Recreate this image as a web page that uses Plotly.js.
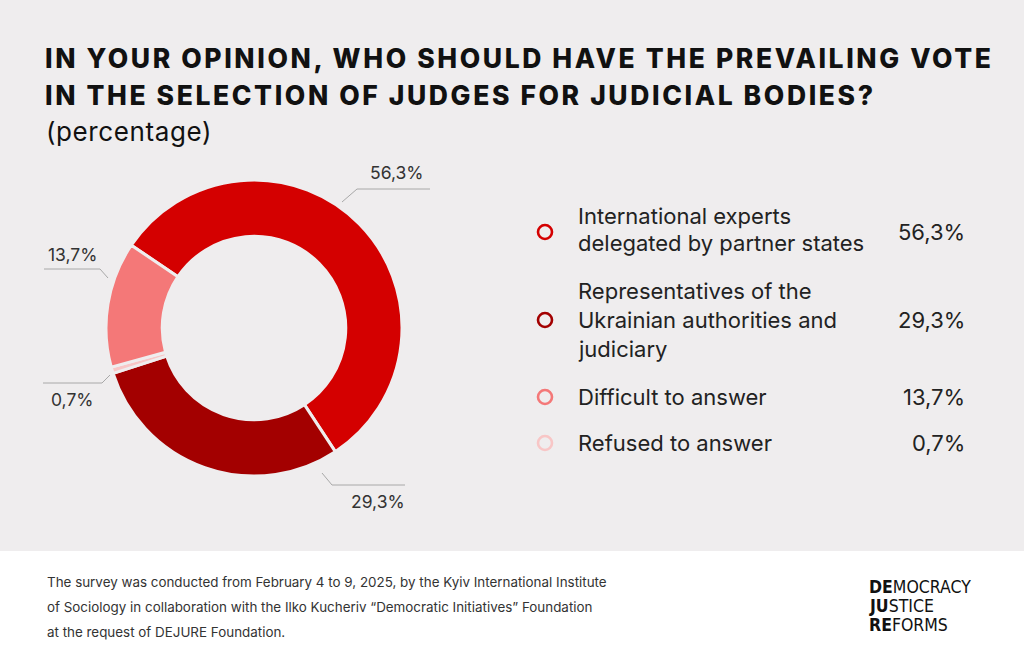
<!DOCTYPE html>
<html>
<head>
<meta charset="utf-8">
<script src="https://cdn.plot.ly/plotly-3.0.1.min.js"></script>
<style>
  body { margin: 0; background: #efedee; }
  #chart { width: 1024px; height: 659px; }
  /* the title is set with wide tracking */
  .annotation[data-index="0"] text,
  .annotation[data-index="1"] text { letter-spacing: 2.6px; }
  .annotation[data-index="2"] text { letter-spacing: 0.6px; }
</style>
</head>
<body>
<div id="chart"></div>
<script>
let chart = document.getElementById("chart");

// survey answers, in the order they run clockwise round the donut
const answers = [
    "International experts<br>delegated by partner states",
    "Representatives of the<br>Ukrainian authorities and<br>judiciary",
    "Refused to answer",
    "Difficult to answer",
];
const shares = [56.3, 29.3, 0.7, 13.7];
const sliceColors = ["#d40000", "#a30000", "#f8c6c6", "#f47878"];

// legend order differs from the donut order
const legendOrder = [0, 1, 3, 2];

const W = 1024;
const H = 659;
const bg = "#efedee";
const font = "Inter, 'Open Sans', sans-serif";

// pixel -> paper helpers
function px(x) { return x / W; }
function py(y) { return 1 - y / H; }

function fmt(v) {
    return v.toFixed(1).replace(".", ",") + "%";
}

let annotations = [];
let shapes = [];

function addText(text, x, y, size, opts) {
    annotations.push(Object.assign({
        text: text,
        x: px(x),
        y: py(y),
        xref: "paper",
        yref: "paper",
        xanchor: "left",
        align: "left",
        yanchor: "middle",
        showarrow: false,
        font: { family: font, size: size, color: "#222" },
    }, opts || {}));
}

// title
const titleFont = { family: font, size: 26.5, color: "#111", weight: 800 };
addText("IN YOUR OPINION, WHO SHOULD HAVE THE PREVAILING VOTE", 43, 58, 26.5, { font: titleFont });
addText("IN THE SELECTION OF JUDGES FOR JUDICIAL BODIES?", 43, 95, 26.5, { font: titleFont });
addText("(percentage)", 44, 131, 26, { font: { family: font, size: 26, color: "#111" } });

// labels round the donut with leader lines
const calloutText = [
    { x: 396, y: 173 },
    { x: 378, y: 501 },
    { x: 72, y: 399 },
    { x: 72, y: 254 },
];
const calloutLines = [
    [[342, 202], [357, 189], [430, 189]],
    [[322, 473], [332, 485], [405, 485]],
    [[110, 375], [102, 383], [43, 383]],
    [[108, 278], [100, 269], [44, 269]],
];
shares.forEach(function (v, i) {
    addText(fmt(v), calloutText[i].x, calloutText[i].y, 17.5, {
        xanchor: "center",
        align: "center",
        font: { family: font, size: 17.5, color: "#333" },
    });
    let pts = calloutLines[i];
    let d = "M" + pts.map(p => px(p[0]) + "," + py(p[1])).join(" L");
    shapes.push({
        type: "path", xref: "paper", yref: "paper", path: d,
        line: { color: "#a8a8a8", width: 1 },
    });
});

// legend, built by hand
const rowLines = [[216, 243], [291, 320, 349], [397], [443]];
const rowMarks = [232, 320, 397, 443];
legendOrder.forEach(function (idx, row) {
    let lines = answers[idx].split("<br>");
    lines.forEach(function (ln, k) {
        addText(ln, 576, rowLines[row][k], 22);
    });
    addText(fmt(shares[idx]), 967, rowMarks[row], 22, { xanchor: "right", align: "right" });
    let cy = rowMarks[row];
    shapes.push({
        type: "circle", xref: "paper", yref: "paper",
        x0: px(538), x1: px(552), y0: py(cy - 7), y1: py(cy + 7),
        line: { color: sliceColors[idx], width: 2.6 },
        fillcolor: "rgba(0,0,0,0)",
    });
});

// footer band
shapes.push({
    type: "rect", xref: "paper", yref: "paper", layer: "below",
    x0: 0, x1: 1, y0: 0, y1: py(551),
    fillcolor: "#ffffff", line: { width: 0 },
});
const footLines = [
    "The survey was conducted from February 4 to 9, 2025, by the Kyiv International Institute",
    "of Sociology in collaboration with the Ilko Kucheriv \u201cDemocratic Initiatives\u201d Foundation",
    "at the request of DEJURE Foundation.",
];
footLines.forEach(function (t, k) {
    addText(t, 45, 582 + k * 25, 13.4, { font: { family: font, size: 13.4, color: "#333" } });
});

// logo
const logo = [["DE", "MOCRACY"], ["JU", "STICE"], ["RE", "FORMS"]];
logo.forEach(function (p, k) {
    addText("<b>" + p[0] + "</b>" + p[1], 867, 587 + k * 19, 17.5, {
        font: { family: "'Liberation Sans Narrow', 'DejaVu Sans Condensed', sans-serif", size: 17.5, color: "#111" },
    });
});

const cx = 254, cy = 328, r = 148;

Plotly.newPlot(chart, [
    {
        type: "pie",
        labels: answers.map(a => a.replace(/<br>/g, " ")),
        values: shares,
        sort: false,
        direction: "clockwise",
        rotation: -56,
        hole: 0.62,
        textinfo: "none",
        hoverinfo: "label+value",
        marker: { colors: sliceColors, line: { color: bg, width: 3 } },
        domain: { x: [px(cx - r), px(cx + r)], y: [py(cy + r), py(cy - r)] },
        showlegend: false,
    },
], {
    width: W,
    height: H,
    margin: { l: 0, r: 0, t: 0, b: 0 },
    paper_bgcolor: bg,
    plot_bgcolor: bg,
    showlegend: false,
    annotations: annotations,
    shapes: shapes,
}, { displayModeBar: false, staticPlot: true });
</script>
</body>
</html>
